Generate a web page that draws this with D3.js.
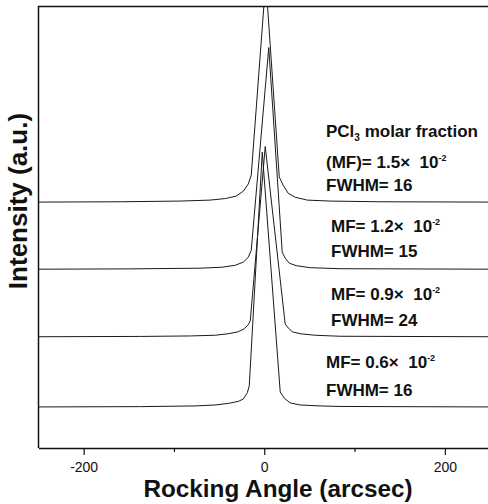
<!DOCTYPE html>
<html>
<head>
<meta charset="utf-8">
<script src="https://cdn.jsdelivr.net/npm/d3@7"></script>
<style>
  body { margin: 0; background: #fff; }
  svg { display: block; font-family: "Liberation Sans", Arial, sans-serif; }
  .ann { font-size: 17px; font-weight: bold; fill: #111; }
  .ticks text { font-size: 14px; fill: #111; }
</style>
</head>
<body>
<div id="chart"></div>
<script>
// rocking curves, angle in arcsec, intensity (a.u.) above each curve's own baseline
var angles1 = [-250, -159, -93, -60, -43, -31, -23, -17.7, -14.4, 1.7, 16.6, 21, 26.5, 34.3, 47.6, 73, 128, 250],
    inten1  = [0, 0.07, 0.23, 0.45, 0.8, 1.36, 2.5, 4.1, 6.1, 50.2, 5.7, 3.8, 2.0, 1.1, 0.45, 0.23, 0.07, 0];
var angles2 = [-250, -148, -70.8, -46.5, -32, -23.2, -17.7, -14.4, 5, 19.9, 23.2, 27.7, 35.4, 50.9, 84, 250],
    inten2  = [0, 0.07, 0.23, 0.45, 0.9, 1.6, 2.7, 4.3, 50.2, 3.8, 2.5, 1.36, 0.8, 0.34, 0.11, 0];
var angles3 = [-250, -137, -81.9, -54.2, -39.8, -28.8, -22.1, -17.7, -15.5, 1.1, 23.2, 26.5, 31, 39.8, 56.4, 84, 250],
    inten3  = [0, 0.07, 0.18, 0.34, 0.68, 1.13, 1.8, 2.7, 3.6, 43.1, 2.9, 2.0, 1.13, 0.68, 0.34, 0.11, 0];
var angles4 = [-250, -137, -76.3, -54.2, -39.8, -28.8, -23.2, -18.8, -16.6, -2.2, 17.7, 22.1, 28.8, 39.8, 61.9, 84, 250],
    inten4  = [0, 0.07, 0.23, 0.45, 0.8, 1.25, 1.8, 3.2, 4.75, 57.7, 3.4, 2.0, 0.9, 0.45, 0.23, 0.11, 0];
var offsets = [55.7, 40.5, 25.2, 9.3];   // vertical stacking of the curves

var mfValues = ["1.5", "1.2", "0.9", "0.6"],
    fwhmValues = [16, 15, 24, 16];

var majorTicks = [-200, 0, 200],
    minorTicks = [-100, 100];

var w = 488, h = 504,
    m = {top: 6.5, right: -2, bottom: 56, left: 38.5};

var x = d3.scaleLinear().domain([-250, 250]).range([m.left, w - m.right]),
    y = d3.scaleLinear().domain([0, 100]).range([h - m.bottom, m.top]);

var svg = d3.select("#chart").append("svg")
    .attr("width", w)
    .attr("height", h);

svg.append("clipPath").attr("id", "plot")
  .append("rect")
    .attr("x", m.left).attr("y", m.top)
    .attr("width", x(250) - m.left).attr("height", y(0) - m.top);

var series = [[angles1, inten1], [angles2, inten2], [angles3, inten3], [angles4, inten4]];

var line = d3.line()
    .x(function(d) { return x(d[0]); })
    .y(function(d) { return y(d[1]); });

svg.append("g")
    .attr("clip-path", "url(#plot)")
  .selectAll("path")
  .data(series)
  .enter().append("path")
    .attr("fill", "none")
    .attr("stroke", "#1a1a1a")
    .attr("stroke-width", 1)
    .attr("d", function(s, i) {
      return line(s[0].map(function(a, j) { return [a, s[1][j] + offsets[i]]; }));
    });

// frame: left and top
svg.append("path")
    .attr("fill", "none")
    .attr("stroke", "#111")
    .attr("stroke-width", 1.5)
    .attr("d", "M" + x(250) + "," + y(100) + "H" + x(-250) + "V" + y(0));

// x axis
svg.append("g")
    .attr("class", "ticks")
    .attr("transform", "translate(0," + y(0) + ")")
    .call(d3.axisBottom(x).tickValues(majorTicks).tickSize(7).tickSizeOuter(0).tickPadding(7)
      .tickFormat(function(d) { return String(d); }))
    .call(function(g) {
      g.select(".domain").attr("stroke", "#111").attr("stroke-width", 1.5);
      g.selectAll(".tick line").attr("stroke", "#111").attr("stroke-width", 1.2);
      g.selectAll(".tick text").attr("font-family", null).attr("font-size", null);
    });

svg.append("g")
    .attr("transform", "translate(0," + y(0) + ")")
    .call(d3.axisBottom(x).tickValues(minorTicks).tickSize(4).tickFormat(""))
    .call(function(g) {
      g.select(".domain").remove();
      g.selectAll(".tick line").attr("stroke", "#111").attr("stroke-width", 1.2);
    });

// axis titles
svg.append("text")
    .attr("x", 278).attr("y", 497)
    .attr("text-anchor", "middle")
    .attr("font-size", 24.3).attr("font-weight", "bold")
    .attr("fill", "#111")
    .text("Rocking Angle (arcsec)");

svg.append("text")
    .attr("transform", "translate(27,201) rotate(-90)")
    .attr("text-anchor", "middle")
    .attr("font-size", 26).attr("font-weight", "bold")
    .attr("fill", "#111")
    .text("Intensity (a.u.)");

// annotations
var t = svg.append("text").attr("class", "ann").attr("x", 326).attr("y", 137);
t.append("tspan").text("PCl");
t.append("tspan").attr("font-size", 10).attr("dy", 4).text("3");
t.append("tspan").attr("dy", -4).text(" molar fraction");

var annX = [326, 331, 331, 326],
    mfY = [168, 232, 300, 368],
    fwY = [191, 257, 326, 396];

mfValues.forEach(function(v, i) {
  var g = svg.append("text").attr("class", "ann").attr("x", annX[i]).attr("y", mfY[i]);
  g.append("tspan").text((i == 0 ? "(MF)= " : "MF= ") + v + "\u00d7\u00a0 10");
  g.append("tspan").attr("font-size", 9).attr("dy", -7).text("-2");
  svg.append("text").attr("class", "ann").attr("x", annX[i]).attr("y", fwY[i])
      .text("FWHM= " + fwhmValues[i]);
});
</script>
</body>
</html>
